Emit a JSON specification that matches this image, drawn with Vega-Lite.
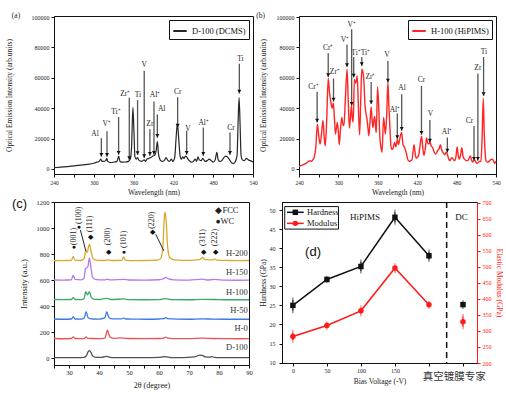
{
"$schema": "https://vega.github.io/schema/vega-lite/v6.json",
"padding": {"left": 5, "top": 11, "right": 0, "bottom": 0},
"datasets": {
"specA": [{"w":240,"i":800},{"w":250,"i":1200},{"w":260,"i":1600},{"w":270,"i":2000},{"w":280,"i":2500},{"w":290,"i":3000},{"w":300,"i":3800},{"w":305,"i":4500},{"w":308,"i":5000},{"w":310.5,"i":6500},{"w":312,"i":5200},{"w":315,"i":5000},{"w":318,"i":5500},{"w":319.5,"i":7000},{"w":321,"i":5000},{"w":325,"i":4200},{"w":330,"i":4500},{"w":335,"i":5000},{"w":337.5,"i":8500},{"w":339.5,"i":5000},{"w":343,"i":4500},{"w":348,"i":4600},{"w":352,"i":5000},{"w":355,"i":6500},{"w":357,"i":15000},{"w":359,"i":40500},{"w":360.5,"i":25000},{"w":362,"i":8000},{"w":364,"i":6500},{"w":366,"i":7500},{"w":368,"i":5800},{"w":372,"i":5000},{"w":376,"i":6000},{"w":378,"i":5000},{"w":380,"i":6500},{"w":383,"i":7000},{"w":386,"i":7500},{"w":389,"i":8500},{"w":392,"i":9000},{"w":394,"i":12000},{"w":395.8,"i":18000},{"w":397.5,"i":10000},{"w":400,"i":6000},{"w":403,"i":5000},{"w":406,"i":5500},{"w":409,"i":7500},{"w":411,"i":6000},{"w":414,"i":5000},{"w":417,"i":6500},{"w":419,"i":5000},{"w":422,"i":7500},{"w":424,"i":20000},{"w":426,"i":30000},{"w":428,"i":20000},{"w":430,"i":9000},{"w":432,"i":6500},{"w":434,"i":8000},{"w":436,"i":7000},{"w":438,"i":8500},{"w":440,"i":8000},{"w":442,"i":6500},{"w":444,"i":5500},{"w":447,"i":4500},{"w":450,"i":5000},{"w":453,"i":6500},{"w":455,"i":5000},{"w":457,"i":8000},{"w":459,"i":6000},{"w":462,"i":5500},{"w":464,"i":7000},{"w":466,"i":6000},{"w":468,"i":5000},{"w":471,"i":5500},{"w":474,"i":6500},{"w":477,"i":5500},{"w":480,"i":4500},{"w":483,"i":6000},{"w":485.5,"i":11000},{"w":487.5,"i":6000},{"w":490,"i":5000},{"w":493,"i":5500},{"w":496,"i":7500},{"w":499,"i":8500},{"w":501,"i":8000},{"w":504,"i":6500},{"w":507,"i":4500},{"w":510,"i":3500},{"w":513,"i":4500},{"w":516,"i":9000},{"w":517.5,"i":30000},{"w":519,"i":47000},{"w":520.5,"i":30000},{"w":522,"i":9000},{"w":524,"i":6000},{"w":527,"i":5500},{"w":530,"i":7000},{"w":533,"i":6000},{"w":536,"i":5500},{"w":540,"i":4500}],
"annA": [
{"x":311.4,"top":20300,"tip":8100,"lx":301.8,"ly":23000,"t":"Al"},
{"x":319.9,"top":24800,"tip":8100,"lx":319.4,"ly":29400,"t":"V⁺"},
{"x":337.4,"top":34200,"tip":9400,"lx":333.4,"ly":37500,"t":"Ti⁺"},
{"x":353.5,"top":46900,"tip":5900,"lx":347.4,"ly":49500,"t":"Zr⁺"},
{"x":366.0,"top":45300,"tip":9200,"lx":366.5,"ly":48400,"t":"Ti"},
{"x":376.0,"top":64700,"tip":7200,"lx":376.0,"ly":68200,"t":"V"},
{"x":384.6,"top":26200,"tip":8700,"lx":384.6,"ly":29900,"t":"Zr"},
{"x":390.7,"top":44500,"tip":9400,"lx":392.2,"ly":48400,"t":"Al⁺"},
{"x":395.8,"top":35800,"tip":20500,"lx":402.3,"ly":39700,"t":"Al"},
{"x":426.4,"top":47300,"tip":27300,"lx":426.4,"ly":50500,"t":"Cr"},
{"x":440.0,"top":25100,"tip":9400,"lx":442.0,"ly":26600,"t":"V"},
{"x":465.1,"top":27300,"tip":8700,"lx":465.6,"ly":30300,"t":"Al⁺"},
{"x":505.3,"top":24000,"tip":9400,"lx":506.8,"ly":26800,"t":"Cr"},
{"x":519.4,"top":69300,"tip":49700,"lx":521.0,"ly":72300,"t":"Ti"}],
"specB": [{"w":240,"i":1700},{"w":245,"i":2500},{"w":250,"i":3500},{"w":254,"i":4800},{"w":257,"i":5500},{"w":259,"i":5000},{"w":261,"i":6000},{"w":263,"i":7500},{"w":265.5,"i":14000},{"w":268,"i":29500},{"w":270,"i":22000},{"w":272.2,"i":16400},{"w":274.5,"i":24000},{"w":276.5,"i":32000},{"w":278.5,"i":20000},{"w":280,"i":15300},{"w":282,"i":30000},{"w":284.5,"i":59700},{"w":286.5,"i":50000},{"w":288.5,"i":44000},{"w":290.5,"i":40000},{"w":292.3,"i":43500},{"w":294,"i":33000},{"w":295.5,"i":23000},{"w":297,"i":27000},{"w":298.5,"i":30600},{"w":300,"i":24000},{"w":301.3,"i":16000},{"w":303,"i":25000},{"w":305.2,"i":34000},{"w":307,"i":29000},{"w":308.5,"i":28500},{"w":310.5,"i":45000},{"w":313.2,"i":65600},{"w":315,"i":45000},{"w":316.8,"i":27000},{"w":318.2,"i":33000},{"w":319.8,"i":41500},{"w":321.3,"i":33000},{"w":322.6,"i":31000},{"w":324.3,"i":59000},{"w":326.5,"i":56500},{"w":328.7,"i":61300},{"w":330.5,"i":40000},{"w":332.3,"i":22500},{"w":334,"i":45000},{"w":335.6,"i":65600},{"w":337.2,"i":64000},{"w":338.8,"i":58000},{"w":340.5,"i":42000},{"w":341.8,"i":37000},{"w":343.5,"i":33000},{"w":345,"i":27000},{"w":346.3,"i":21900},{"w":348,"i":30000},{"w":349.9,"i":40800},{"w":351.3,"i":33000},{"w":352.5,"i":27300},{"w":354,"i":32000},{"w":355.4,"i":34600},{"w":356.7,"i":27000},{"w":357.7,"i":24000},{"w":359.6,"i":54000},{"w":361.5,"i":40000},{"w":363,"i":22000},{"w":364.5,"i":15000},{"w":366.5,"i":11000},{"w":368.8,"i":34000},{"w":370.3,"i":28000},{"w":371.5,"i":23000},{"w":373.5,"i":35000},{"w":375.4,"i":57000},{"w":377,"i":40000},{"w":378.5,"i":27000},{"w":380,"i":15000},{"w":381.5,"i":13000},{"w":383.2,"i":13500},{"w":385.5,"i":17500},{"w":387.5,"i":14500},{"w":389.8,"i":19500},{"w":391.5,"i":16000},{"w":393.5,"i":20000},{"w":396.2,"i":24000},{"w":398.5,"i":16000},{"w":401,"i":14000},{"w":403.5,"i":10300},{"w":405.5,"i":6500},{"w":407.5,"i":5000},{"w":410,"i":5500},{"w":412,"i":6000},{"w":415.2,"i":16000},{"w":417,"i":10000},{"w":418.5,"i":7200},{"w":421,"i":8000},{"w":422.7,"i":10000},{"w":424.5,"i":16000},{"w":426.7,"i":21500},{"w":428.5,"i":14000},{"w":430.3,"i":9000},{"w":432.5,"i":14000},{"w":434.2,"i":20500},{"w":436.3,"i":16800},{"w":438,"i":16500},{"w":439.5,"i":18000},{"w":441,"i":15500},{"w":443.5,"i":14000},{"w":446,"i":11000},{"w":448,"i":9800},{"w":451,"i":12000},{"w":453.5,"i":13500},{"w":455.3,"i":16000},{"w":457,"i":13000},{"w":459,"i":11000},{"w":462,"i":9400},{"w":464,"i":11000},{"w":465.7,"i":10000},{"w":468,"i":6500},{"w":470,"i":5500},{"w":472.5,"i":7500},{"w":475,"i":6500},{"w":477,"i":5500},{"w":479,"i":8000},{"w":480.8,"i":14500},{"w":482.5,"i":9000},{"w":484,"i":6500},{"w":486,"i":9000},{"w":488,"i":14000},{"w":490,"i":8000},{"w":492,"i":6500},{"w":494.5,"i":5500},{"w":497,"i":5500},{"w":499,"i":7000},{"w":501,"i":8500},{"w":502.5,"i":6500},{"w":504.3,"i":4500},{"w":506,"i":5500},{"w":507.7,"i":6000},{"w":509.3,"i":4500},{"w":511,"i":3700},{"w":513,"i":4300},{"w":514.5,"i":4800},{"w":517,"i":5000},{"w":518.8,"i":20000},{"w":520.6,"i":46500},{"w":522,"i":25000},{"w":523.6,"i":10000},{"w":525,"i":5000},{"w":527,"i":4500},{"w":529.5,"i":5000},{"w":531.5,"i":6000},{"w":534.7,"i":6500},{"w":536.5,"i":5000},{"w":538,"i":3800},{"w":540,"i":5000}],
"annB": [
{"x":267.6,"top":50800,"tip":30600,"lx":262.0,"ly":54000,"t":"Cr⁺"},
{"x":284.5,"top":76100,"tip":60600,"lx":284.5,"ly":79400,"t":"Cr⁺"},
{"x":292.6,"top":59500,"tip":44400,"lx":294.7,"ly":63900,"t":"Zr⁺"},
{"x":313.1,"top":82000,"tip":67200,"lx":310.0,"ly":84800,"t":"V⁺"},
{"x":320.2,"top":91900,"tip":41600,"lx":320.2,"ly":95000,"t":"V⁺"},
{"x":323.3,"top":73700,"tip":60200,"lx":326.9,"ly":76600,"t":"Ti⁺"},
{"x":335.6,"top":73700,"tip":67800,"lx":341.2,"ly":76600,"t":"Ti⁺"},
{"x":349.9,"top":57300,"tip":42700,"lx":348.8,"ly":60600,"t":"Zr⁺"},
{"x":375.4,"top":71100,"tip":56900,"lx":373.9,"ly":75000,"t":"V"},
{"x":389.7,"top":36500,"tip":19700,"lx":386.1,"ly":39000,"t":"Al⁺"},
{"x":396.4,"top":49200,"tip":25200,"lx":396.9,"ly":53000,"t":"Al"},
{"x":426.5,"top":54700,"tip":22500,"lx":426.5,"ly":58400,"t":"Cr"},
{"x":439.3,"top":32200,"tip":17500,"lx":440.3,"ly":36000,"t":"V"},
{"x":465.9,"top":20800,"tip":10900,"lx":465.4,"ly":24500,"t":"Al⁺"},
{"x":506.5,"top":28300,"tip":5500,"lx":499.6,"ly":31500,"t":"Cr"},
{"x":512.4,"top":62800,"tip":5500,"lx":512.4,"ly":66300,"t":"Zr"},
{"x":521.1,"top":73700,"tip":48100,"lx":521.6,"ly":77200,"t":"Ti"}],
"xrd": [
{"s":"D-100","t":25,"i":5},{"s":"D-100","t":28,"i":4},{"s":"D-100","t":31,"i":5},{"s":"D-100","t":33,"i":4},{"s":"D-100","t":35,"i":6},{"s":"D-100","t":35.8,"i":20},{"s":"D-100","t":36.4,"i":50},{"s":"D-100","t":36.8,"i":58},{"s":"D-100","t":37.3,"i":45},{"s":"D-100","t":38,"i":15},{"s":"D-100","t":39,"i":7},{"s":"D-100","t":41,"i":6},{"s":"D-100","t":42.3,"i":14},{"s":"D-100","t":43.2,"i":10},{"s":"D-100","t":45,"i":5},{"s":"D-100","t":48,"i":5},{"s":"D-100","t":52,"i":4},{"s":"D-100","t":56,"i":5},{"s":"D-100","t":60,"i":6},{"s":"D-100","t":61.6,"i":12},{"s":"D-100","t":62.5,"i":10},{"s":"D-100","t":64,"i":5},{"s":"D-100","t":68,"i":5},{"s":"D-100","t":71,"i":8},{"s":"D-100","t":72.5,"i":15},{"s":"D-100","t":73.6,"i":24},{"s":"D-100","t":74.4,"i":22},{"s":"D-100","t":75.5,"i":10},{"s":"D-100","t":77,"i":8},{"s":"D-100","t":77.7,"i":12},{"s":"D-100","t":78.5,"i":7},{"s":"D-100","t":80,"i":5},{"s":"D-100","t":85,"i":4},{"s":"D-100","t":90,"i":5},
{"s":"H-0","t":25,"i":152},{"s":"H-0","t":28,"i":150},{"s":"H-0","t":30.8,"i":152},{"s":"H-0","t":31.4,"i":165},{"s":"H-0","t":32,"i":152},{"s":"H-0","t":34,"i":151},{"s":"H-0","t":35.2,"i":153},{"s":"H-0","t":35.7,"i":165},{"s":"H-0","t":36.3,"i":153},{"s":"H-0","t":37.5,"i":152},{"s":"H-0","t":40,"i":151},{"s":"H-0","t":42,"i":155},{"s":"H-0","t":42.4,"i":185},{"s":"H-0","t":42.8,"i":217},{"s":"H-0","t":43.2,"i":190},{"s":"H-0","t":43.8,"i":160},{"s":"H-0","t":45,"i":153},{"s":"H-0","t":47,"i":156},{"s":"H-0","t":48.2,"i":155},{"s":"H-0","t":50,"i":152},{"s":"H-0","t":55,"i":151},{"s":"H-0","t":60,"i":152},{"s":"H-0","t":61.6,"i":155},{"s":"H-0","t":62.3,"i":163},{"s":"H-0","t":63,"i":155},{"s":"H-0","t":66,"i":151},{"s":"H-0","t":70,"i":151},{"s":"H-0","t":74.5,"i":155},{"s":"H-0","t":78,"i":152},{"s":"H-0","t":82,"i":151},{"s":"H-0","t":86,"i":150},{"s":"H-0","t":90,"i":151},
{"s":"H-50","t":25,"i":302},{"s":"H-50","t":28,"i":300},{"s":"H-50","t":30.8,"i":302},{"s":"H-50","t":31.4,"i":318},{"s":"H-50","t":32,"i":302},{"s":"H-50","t":34,"i":301},{"s":"H-50","t":35.1,"i":310},{"s":"H-50","t":35.7,"i":358},{"s":"H-50","t":36.3,"i":315},{"s":"H-50","t":37,"i":305},{"s":"H-50","t":38,"i":302},{"s":"H-50","t":40,"i":301},{"s":"H-50","t":41.9,"i":310},{"s":"H-50","t":42.6,"i":358},{"s":"H-50","t":43.3,"i":312},{"s":"H-50","t":44.5,"i":303},{"s":"H-50","t":47.5,"i":303},{"s":"H-50","t":48.2,"i":308},{"s":"H-50","t":49,"i":302},{"s":"H-50","t":52,"i":301},{"s":"H-50","t":56,"i":300},{"s":"H-50","t":60,"i":302},{"s":"H-50","t":61.6,"i":304},{"s":"H-50","t":62.3,"i":312},{"s":"H-50","t":63,"i":304},{"s":"H-50","t":66,"i":301},{"s":"H-50","t":70,"i":300},{"s":"H-50","t":74.5,"i":303},{"s":"H-50","t":78,"i":301},{"s":"H-50","t":82,"i":300},{"s":"H-50","t":86,"i":300},{"s":"H-50","t":90,"i":300},
{"s":"H-100","t":25,"i":452},{"s":"H-100","t":28,"i":451},{"s":"H-100","t":30.8,"i":452},{"s":"H-100","t":31.4,"i":467},{"s":"H-100","t":32,"i":452},{"s":"H-100","t":34,"i":451},{"s":"H-100","t":35,"i":458},{"s":"H-100","t":35.6,"i":512},{"s":"H-100","t":36.2,"i":488},{"s":"H-100","t":36.8,"i":512},{"s":"H-100","t":37.4,"i":470},{"s":"H-100","t":38.2,"i":455},{"s":"H-100","t":40,"i":452},{"s":"H-100","t":42.6,"i":460},{"s":"H-100","t":44,"i":452},{"s":"H-100","t":48.2,"i":456},{"s":"H-100","t":50,"i":451},{"s":"H-100","t":55,"i":450},{"s":"H-100","t":60,"i":451},{"s":"H-100","t":62.3,"i":459},{"s":"H-100","t":64,"i":451},{"s":"H-100","t":70,"i":450},{"s":"H-100","t":74.5,"i":453},{"s":"H-100","t":78.5,"i":452},{"s":"H-100","t":82,"i":450},{"s":"H-100","t":86,"i":450},{"s":"H-100","t":90,"i":450},
{"s":"H-150","t":25,"i":602},{"s":"H-150","t":28,"i":601},{"s":"H-150","t":30.8,"i":604},{"s":"H-150","t":31.4,"i":640},{"s":"H-150","t":32,"i":606},{"s":"H-150","t":34,"i":603},{"s":"H-150","t":35,"i":615},{"s":"H-150","t":35.5,"i":690},{"s":"H-150","t":35.9,"i":695},{"s":"H-150","t":36.3,"i":705},{"s":"H-150","t":36.8,"i":772},{"s":"H-150","t":37.3,"i":700},{"s":"H-150","t":37.9,"i":620},{"s":"H-150","t":39,"i":605},{"s":"H-150","t":42,"i":603},{"s":"H-150","t":42.7,"i":608},{"s":"H-150","t":44,"i":603},{"s":"H-150","t":48.2,"i":607},{"s":"H-150","t":50,"i":602},{"s":"H-150","t":55,"i":601},{"s":"H-150","t":60,"i":604},{"s":"H-150","t":61.5,"i":612},{"s":"H-150","t":62.3,"i":622},{"s":"H-150","t":63.2,"i":610},{"s":"H-150","t":65,"i":603},{"s":"H-150","t":70,"i":601},{"s":"H-150","t":74.5,"i":608},{"s":"H-150","t":76,"i":602},{"s":"H-150","t":78.5,"i":606},{"s":"H-150","t":82,"i":601},{"s":"H-150","t":86,"i":600},{"s":"H-150","t":90,"i":601},
{"s":"H-200","t":25,"i":752},{"s":"H-200","t":28,"i":751},{"s":"H-200","t":30.8,"i":754},{"s":"H-200","t":31.4,"i":782},{"s":"H-200","t":32,"i":755},{"s":"H-200","t":34,"i":752},{"s":"H-200","t":35.1,"i":770},{"s":"H-200","t":35.6,"i":832},{"s":"H-200","t":36.0,"i":812},{"s":"H-200","t":36.8,"i":878},{"s":"H-200","t":37.4,"i":820},{"s":"H-200","t":38,"i":765},{"s":"H-200","t":39.5,"i":753},{"s":"H-200","t":42,"i":752},{"s":"H-200","t":42.7,"i":757},{"s":"H-200","t":44,"i":752},{"s":"H-200","t":47.6,"i":754},{"s":"H-200","t":48.2,"i":780},{"s":"H-200","t":48.8,"i":755},{"s":"H-200","t":52,"i":751},{"s":"H-200","t":56,"i":752},{"s":"H-200","t":59,"i":754},{"s":"H-200","t":60.5,"i":765},{"s":"H-200","t":61.3,"i":860},{"s":"H-200","t":61.8,"i":1090},{"s":"H-200","t":62.05,"i":1123},{"s":"H-200","t":62.4,"i":1050},{"s":"H-200","t":62.9,"i":850},{"s":"H-200","t":63.6,"i":775},{"s":"H-200","t":65,"i":757},{"s":"H-200","t":70,"i":753},{"s":"H-200","t":73.8,"i":760},{"s":"H-200","t":74.5,"i":776},{"s":"H-200","t":75.2,"i":760},{"s":"H-200","t":77.8,"i":756},{"s":"H-200","t":78.5,"i":765},{"s":"H-200","t":79.2,"i":755},{"s":"H-200","t":83,"i":752},{"s":"H-200","t":87,"i":751},{"s":"H-200","t":90,"i":752}],
"labC": [{"s":"H-200","i":808},{"s":"H-150","i":661},{"s":"H-100","i":513},{"s":"H-50","i":372},{"s":"H-0","i":231},{"s":"D-100","i":85}],
"annC": [
{"t":31.6,"i":854,"m":"●","lab":"(001)","li":936},
{"t":33.3,"i":1013,"m":"●","lab":"(100)","li":1100},
{"t":37.1,"i":936,"m":"◆","lab":"(111)","li":1033},
{"t":43.1,"i":820,"m":"◆","lab":"(200)","li":936},
{"t":48.3,"i":815,"m":"●","lab":"(101)","li":915},
{"t":57.8,"i":969,"m":"◆","lab":"(220)","li":1062},
{"t":74.7,"i":820,"m":"◆","lab":"(311)","li":929},
{"t":78.7,"i":820,"m":"◆","lab":"(222)","li":929}],
"leadC": [{"t":33.8,"i":987,"t2":35.6,"i2":826},{"t":58.9,"i":954,"t2":61.6,"i2":826}],
"legC": [{"txt":"◆FCC","i":1141},{"txt":"●WC","i":1056}],
"mech": [
{"v":0,"h":25.0,"hlo":23.6,"hhi":26.4,"m":283,"mlo":271,"mhi":295,"g":"HiPIMS"},
{"v":50,"h":31.8,"hlo":31.5,"hhi":32.1,"m":317,"mlo":312,"mhi":322,"g":"HiPIMS"},
{"v":100,"h":35.2,"hlo":34.0,"hhi":36.4,"m":363,"mlo":353,"mhi":373,"g":"HiPIMS"},
{"v":150,"h":48.1,"hlo":46.8,"hhi":49.4,"m":497,"mlo":489,"mhi":505,"g":"HiPIMS"},
{"v":200,"h":38.0,"hlo":37.0,"hhi":39.0,"m":382,"mlo":377,"mhi":387,"g":"HiPIMS"},
{"v":250,"h":25.2,"hlo":24.7,"hhi":25.7,"m":329,"mlo":313,"mhi":345,"g":"DC"}],
"legD": [{"k":"Hardness","y":49.4},{"k":"Modulus","y":46.5}]
},
"spacing": 0,
"resolve": {"scale": {"color": "independent"}, "legend": {"color": "independent"}},
"vconcat": [
{
"hconcat": [
{
"width": 199, "height": 158,
"layer": [
{"data": {"name": "specA"}, "mark": {"type": "line", "strokeWidth": 1.2, "interpolate": "monotone"},
 "encoding": {
  "x": {"field": "w", "type": "quantitative", "scale": {"domain": [240, 540], "nice": false}, "axis": {"values": [240,270,300,330,360,390,420,450,480,510,540], "tickCount": 100, "labelExpr": "datum.value % 60 == 0 ? datum.label : ''", "format": "d", "title": "Wavelength (nm)", "labelFontSize": 5.5, "labelPadding": 3, "titlePadding": 3, "labelOverlap": false}},
  "y": {"field": "i", "type": "quantitative", "scale": {"domain": [-3300, 100700], "nice": false, "zero": false}, "axis": {"values": [0,20000,40000,60000,80000,100000], "tickCount": 100, "format": "d", "title": "Optical Emission Intensity (arb.units)", "titlePadding": 17.5, "labelOverlap": false}},
  "color": {"datum": "D-100 (DCMS)", "type": "nominal", "scale": {"range": ["#262626"]}, "legend": {"title": null, "orient": "top-right", "offset": 4, "symbolType": "stroke", "symbolStrokeWidth": 2, "symbolSize": 180, "strokeColor": "#111", "fillColor": "white", "padding": 3, "labelFontSize": 8.5, "labelColor": "#111", "labelLimit": 200}}
 }},
{"data": {"name": "annA"}, "mark": {"type": "rule", "color": "#555", "strokeWidth": 1.3},
 "encoding": {"x": {"field": "x", "type": "quantitative"}, "y": {"field": "top", "type": "quantitative"}, "y2": {"field": "tip"}}},
{"data": {"name": "annA"}, "mark": {"type": "point", "shape": "triangle-down", "filled": true, "color": "#111", "size": 16, "yOffset": -2, "opacity": 1},
 "encoding": {"x": {"field": "x", "type": "quantitative"}, "y": {"field": "tip", "type": "quantitative"}}},
{"data": {"name": "annA"}, "mark": {"type": "text", "fontSize": 7.5, "baseline": "middle"},
 "encoding": {"x": {"field": "lx", "type": "quantitative"}, "y": {"field": "ly", "type": "quantitative"}, "text": {"field": "t"}}},
{"data": {"values": [{"t": "(a)"}]}, "mark": {"type": "text", "fontSize": 7.5},
 "encoding": {"x": {"datum": 182.7, "type": "quantitative", "scale": {"domain": [240, 540], "nice": false}}, "y": {"datum": 100700, "type": "quantitative", "scale": {"domain": [-3300, 100700], "nice": false, "zero": false}}, "text": {"field": "t"}}}
]
},
{
"width": 197, "height": 158,
"layer": [
{"data": {"name": "specB"}, "mark": {"type": "line", "strokeWidth": 1.4, "interpolate": "monotone"},
 "encoding": {
  "x": {"field": "w", "type": "quantitative", "scale": {"domain": [240, 540], "nice": false}, "axis": {"values": [240,270,300,330,360,390,420,450,480,510,540], "tickCount": 100, "labelExpr": "datum.value % 60 == 0 ? datum.label : ''", "format": "d", "title": "Wavelength (nm)", "labelFontSize": 5.5, "labelPadding": 3, "titlePadding": 3, "labelOverlap": false}},
  "y": {"field": "i", "type": "quantitative", "scale": {"domain": [-3300, 100700], "nice": false, "zero": false}, "axis": {"values": [0,20000,40000,60000,80000,100000], "tickCount": 100, "format": "d", "title": "Optical Emission Intensity (arb.units)", "titlePadding": 9, "labelOverlap": false}},
  "color": {"datum": "H-100 (HiPIMS)", "type": "nominal", "scale": {"range": ["#ff2525"]}, "legend": {"title": null, "orient": "top-right", "offset": 4, "symbolType": "stroke", "symbolStrokeWidth": 2, "symbolSize": 180, "strokeColor": "#111", "fillColor": "white", "padding": 3, "labelFontSize": 8.5, "labelColor": "#111", "labelLimit": 200}}
 }},
{"data": {"name": "annB"}, "mark": {"type": "rule", "color": "#555", "strokeWidth": 1.3},
 "encoding": {"x": {"field": "x", "type": "quantitative"}, "y": {"field": "top", "type": "quantitative"}, "y2": {"field": "tip"}}},
{"data": {"name": "annB"}, "mark": {"type": "point", "shape": "triangle-down", "filled": true, "color": "#111", "size": 16, "yOffset": -2, "opacity": 1},
 "encoding": {"x": {"field": "x", "type": "quantitative"}, "y": {"field": "tip", "type": "quantitative"}}},
{"data": {"name": "annB"}, "mark": {"type": "text", "fontSize": 7.5, "baseline": "middle"},
 "encoding": {"x": {"field": "lx", "type": "quantitative"}, "y": {"field": "ly", "type": "quantitative"}, "text": {"field": "t"}}},
{"data": {"values": [{"t": "(b)"}]}, "mark": {"type": "text", "fontSize": 7.5},
 "encoding": {"x": {"datum": 181.4, "type": "quantitative", "scale": {"domain": [240, 540], "nice": false}}, "y": {"datum": 100700, "type": "quantitative", "scale": {"domain": [-3300, 100700], "nice": false, "zero": false}}, "text": {"field": "t"}}}
]
}
],
"spacing": 46, "bounds": "flush",
"resolve": {"scale": {"color": "independent"}, "legend": {"color": "independent"}}
},
{
"hconcat": [
{
"width": 195, "height": 163,
"layer": [
{"data": {"name": "xrd"}, "mark": {"type": "line", "strokeWidth": 1.3, "interpolate": "monotone"},
 "encoding": {
  "x": {"field": "t", "type": "quantitative", "scale": {"domain": [25, 90], "nice": false}, "axis": {"values": [25,30,35,40,45,50,55,60,65,70,75,80,85,90], "tickCount": 100, "format": "d", "labelExpr": "datum.value % 10 == 0 ? datum.label : ''", "title": "2θ (degree)", "labelFontSize": 6.5, "titleFontSize": 8, "labelPadding": 1.5, "titlePadding": 5, "labelOverlap": false}},
  "y": {"field": "i", "type": "quantitative", "scale": {"domain": [-52, 1202], "nice": false, "zero": false}, "axis": {"values": [0,200,400,600,800,1000,1200], "tickCount": 100, "format": "d", "title": "Intensity (a.u.)", "labelFontSize": 6.5, "titleFontSize": 8.5, "titlePadding": 8, "labelOverlap": false}},
  "color": {"field": "s", "type": "nominal", "scale": {"domain": ["D-100","H-0","H-50","H-100","H-150","H-200"], "range": ["#505050","#f05252","#3a78ea","#3aa866","#b779ea","#d9a82c"]}, "legend": null}
 }},
{"data": {"name": "labC"}, "mark": {"type": "text", "fontSize": 8.5, "align": "right", "baseline": "middle", "color": "#333"},
 "encoding": {"x": {"datum": 89.6, "type": "quantitative"}, "y": {"field": "i", "type": "quantitative"}, "text": {"field": "s"}}},
{"data": {"name": "annC"}, "mark": {"type": "text", "fontSize": 7, "baseline": "middle", "color": "#111"},
 "encoding": {"x": {"field": "t", "type": "quantitative"}, "y": {"field": "i", "type": "quantitative"}, "text": {"field": "m"}}},
{"data": {"name": "annC"}, "mark": {"type": "text", "fontSize": 8, "angle": 270, "baseline": "middle", "align": "center", "color": "#222"},
 "encoding": {"x": {"field": "t", "type": "quantitative"}, "y": {"field": "li", "type": "quantitative"}, "text": {"field": "lab"}}},
{"data": {"name": "leadC"}, "mark": {"type": "rule", "color": "#222", "strokeWidth": 1},
 "encoding": {"x": {"field": "t", "type": "quantitative"}, "x2": {"field": "t2"}, "y": {"field": "i", "type": "quantitative"}, "y2": {"field": "i2"}}},
{"data": {"name": "legC"}, "mark": {"type": "text", "fontSize": 8.5, "align": "left", "baseline": "middle", "color": "#222"},
 "encoding": {"x": {"datum": 78.8, "type": "quantitative"}, "y": {"field": "i", "type": "quantitative"}, "text": {"field": "txt"}}},
{"data": {"values": [{"t": "(c)"}]}, "mark": {"type": "text", "fontSize": 13, "font": "Liberation Sans", "baseline": "middle", "color": "#111"},
 "encoding": {"x": {"datum": 13.5, "type": "quantitative", "scale": {"domain": [25, 90], "nice": false}}, "y": {"datum": 1187, "type": "quantitative", "scale": {"domain": [-52, 1202], "nice": false, "zero": false}}, "text": {"field": "t"}}}
]
},
{
"width": 195, "height": 161,
"layer": [
{
"layer": [
{"data": {"name": "mech"}, "transform": [{"filter": {"field": "g", "equal": "HiPIMS"}}], "mark": {"type": "line", "color": "#111", "strokeWidth": 1.5},
 "encoding": {
  "x": {"field": "v", "type": "quantitative", "scale": {"domain": [-16, 270.6], "nice": false}, "axis": {"values": [0,50,100,150,200,250], "tickCount": 100, "format": "d", "labelExpr": "datum.value >= 200 ? '' : datum.label", "title": "Bias Voltage (-V)", "labelFontSize": 6, "titleFontSize": 7.5, "labelPadding": 1, "titlePadding": 4, "labelOverlap": false}},
  "y": {"field": "h", "type": "quantitative", "scale": {"domain": [9.9, 52.1], "nice": false, "zero": false}, "axis": {"orient": "left", "values": [10,15,20,25,30,35,40,45,50], "tickCount": 100, "format": "d", "title": "Hardness (GPa)", "labelFontSize": 6, "titleFontSize": 7.5, "labelPadding": 4, "titlePadding": 2, "labelOverlap": false}}
 }},
{"data": {"name": "mech"}, "mark": {"type": "rule", "color": "#111", "strokeWidth": 1},
 "encoding": {"x": {"field": "v", "type": "quantitative"}, "y": {"field": "hlo", "type": "quantitative", "scale": {"domain": [9.9, 52.1], "nice": false, "zero": false}}, "y2": {"field": "hhi"}}},
{"data": {"name": "mech"}, "mark": {"type": "tick", "color": "#111", "size": 5, "thickness": 1},
 "encoding": {"x": {"field": "v", "type": "quantitative"}, "y": {"field": "hlo", "type": "quantitative", "scale": {"domain": [9.9, 52.1], "nice": false, "zero": false}}}},
{"data": {"name": "mech"}, "mark": {"type": "tick", "color": "#111", "size": 5, "thickness": 1},
 "encoding": {"x": {"field": "v", "type": "quantitative"}, "y": {"field": "hhi", "type": "quantitative", "scale": {"domain": [9.9, 52.1], "nice": false, "zero": false}}}},
{"data": {"name": "mech"}, "mark": {"type": "point", "shape": "square", "filled": true, "color": "#111", "size": 30, "opacity": 1},
 "encoding": {"x": {"field": "v", "type": "quantitative"}, "y": {"field": "h", "type": "quantitative", "scale": {"domain": [9.9, 52.1], "nice": false, "zero": false}}}},
{"data": {"values": [{"x": 226}]}, "mark": {"type": "rule", "color": "#111", "strokeWidth": 1.5, "strokeDash": [6, 4]},
 "encoding": {"x": {"field": "x", "type": "quantitative"}}},
{"data": {"values": [{"t": "HiPIMS", "x": 106, "y": 48.2}, {"t": "DC", "x": 248, "y": 48.2}]}, "mark": {"type": "text", "fontSize": 9, "baseline": "middle", "color": "#111"},
 "encoding": {"x": {"field": "x", "type": "quantitative"}, "y": {"field": "y", "type": "quantitative", "scale": {"domain": [9.9, 52.1], "nice": false, "zero": false}}, "text": {"field": "t"}}},
{"data": {"values": [{"t": "(d)"}]}, "mark": {"type": "text", "fontSize": 13, "font": "Liberation Sans", "baseline": "middle", "color": "#111"},
 "encoding": {"x": {"datum": 29.6, "type": "quantitative"}, "y": {"datum": 38.9, "type": "quantitative", "scale": {"domain": [9.9, 52.1], "nice": false, "zero": false}}, "text": {"field": "t"}}},
{"data": {"values": [{}]}, "mark": {"type": "rect", "fill": "white", "stroke": "#111", "strokeWidth": 1},
 "encoding": {"x": {"datum": -12, "type": "quantitative"}, "x2": {"datum": 67}, "y": {"datum": 45.0, "type": "quantitative", "scale": {"domain": [9.9, 52.1], "nice": false, "zero": false}}, "y2": {"datum": 50.9}}},
{"data": {"name": "legD"}, "mark": {"type": "rule", "strokeWidth": 1.5},
 "encoding": {"x": {"datum": -8.6, "type": "quantitative"}, "x2": {"datum": 15.9}, "y": {"field": "y", "type": "quantitative", "scale": {"domain": [9.9, 52.1], "nice": false, "zero": false}}, "color": {"field": "k", "type": "nominal", "scale": {"domain": ["Hardness","Modulus"], "range": ["#111","#ff1a1a"]}, "legend": null}}},
{"data": {"name": "legD"}, "mark": {"type": "point", "filled": true, "size": 30, "opacity": 1},
 "encoding": {"x": {"datum": 3.6, "type": "quantitative"}, "y": {"field": "y", "type": "quantitative", "scale": {"domain": [9.9, 52.1], "nice": false, "zero": false}}, "color": {"field": "k", "type": "nominal", "legend": null}, "shape": {"field": "k", "type": "nominal", "scale": {"domain": ["Hardness","Modulus"], "range": ["square","circle"]}, "legend": null}}},
{"data": {"name": "legD"}, "mark": {"type": "text", "fontSize": 8.5, "align": "left", "baseline": "middle", "color": "#111"},
 "encoding": {"x": {"datum": 20.8, "type": "quantitative"}, "y": {"field": "y", "type": "quantitative", "scale": {"domain": [9.9, 52.1], "nice": false, "zero": false}}, "text": {"field": "k"}}},
{"data": {"values": [{"t": "真空镀膜专家"}]}, "mark": {"type": "text", "fontSize": 10.5, "font": "Noto Sans CJK SC", "baseline": "middle", "color": "#333"},
 "encoding": {"x": {"datum": 237, "type": "quantitative"}, "y": {"datum": 6.2, "type": "quantitative", "scale": {"domain": [9.9, 52.1], "nice": false, "zero": false}}, "text": {"field": "t"}}}
]
},
{
"layer": [
{"data": {"name": "mech"}, "transform": [{"filter": {"field": "g", "equal": "HiPIMS"}}], "mark": {"type": "line", "color": "#ff1a1a", "strokeWidth": 1.5},
 "encoding": {
  "x": {"field": "v", "type": "quantitative"},
  "y": {"field": "m", "type": "quantitative", "scale": {"domain": [200, 703], "nice": false, "zero": false}, "axis": {"orient": "right", "values": [200,250,300,350,400,450,500,550,600,650,700], "tickCount": 100, "format": "d", "title": "Elastic Modulus (GPa)", "labelFontSize": 6, "titleFontSize": 7.5, "labelColor": "#ff1a1a", "titleColor": "#ff1a1a", "domainColor": "#ff1a1a", "tickColor": "#ff1a1a", "labelPadding": 2, "titlePadding": 3, "labelOverlap": false}}
 }},
{"data": {"name": "mech"}, "mark": {"type": "rule", "color": "#ff1a1a", "strokeWidth": 1},
 "encoding": {"x": {"field": "v", "type": "quantitative"}, "y": {"field": "mlo", "type": "quantitative", "scale": {"domain": [200, 703], "nice": false, "zero": false}}, "y2": {"field": "mhi"}}},
{"data": {"name": "mech"}, "mark": {"type": "tick", "color": "#ff1a1a", "size": 5, "thickness": 1},
 "encoding": {"x": {"field": "v", "type": "quantitative"}, "y": {"field": "mlo", "type": "quantitative", "scale": {"domain": [200, 703], "nice": false, "zero": false}}}},
{"data": {"name": "mech"}, "mark": {"type": "tick", "color": "#ff1a1a", "size": 5, "thickness": 1},
 "encoding": {"x": {"field": "v", "type": "quantitative"}, "y": {"field": "mhi", "type": "quantitative", "scale": {"domain": [200, 703], "nice": false, "zero": false}}}},
{"data": {"name": "mech"}, "mark": {"type": "point", "shape": "circle", "filled": true, "color": "#ff1a1a", "size": 30, "opacity": 1},
 "encoding": {"x": {"field": "v", "type": "quantitative"}, "y": {"field": "m", "type": "quantitative", "scale": {"domain": [200, 703], "nice": false, "zero": false}}}}
]
}
],
"resolve": {"scale": {"y": "independent"}}
}
],
"spacing": 33, "bounds": "flush",
"resolve": {"scale": {"color": "independent", "shape": "independent"}, "legend": {"color": "independent"}}
}
],
"config": {
 "font": "Liberation Serif",
 "view": {"stroke": "#111", "strokeWidth": 1},
 "axis": {"grid": false, "labelFont": "Liberation Serif", "titleFont": "Liberation Serif", "labelFontSize": 6, "titleFontSize": 7.5, "titleFontWeight": "normal", "tickSize": 3, "tickColor": "#111", "domainColor": "#111", "labelColor": "#222", "titleColor": "#222", "labelPadding": 2, "titlePadding": 3, "labelFlush": false, "labelOverlap": false},
 "text": {"font": "Liberation Serif", "color": "#222"},
 "legend": {"labelFont": "Liberation Serif"}
}
}
